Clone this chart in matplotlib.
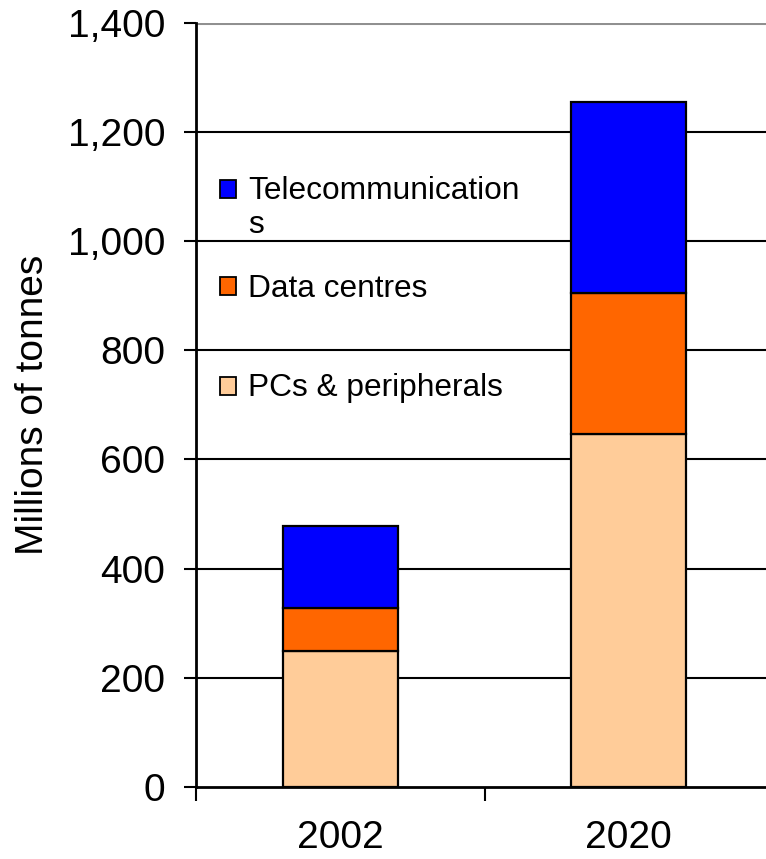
import matplotlib
matplotlib.use("Agg")
import matplotlib.pyplot as plt
from matplotlib.patches import Rectangle
import numpy as np

plt.rcParams['font.family'] = ['Liberation Sans', 'DejaVu Sans']

years = ["2002", "2020"]
series_names = ["PCs & peripherals", "Data centres", "Telecommunications"]
pcs = [250, 647]
data_centres = [78, 258]
telecom = [150, 349]
series_values = [pcs, data_centres, telecom]
colors = ["#FFCC99", "#FF6600", "#0000FF"]
y_ticks = [0, 200, 400, 600, 800, 1000, 1200, 1400]

fig = plt.figure(figsize=(7.66, 8.59), dpi=100)
ax = fig.add_axes([0.2559, 0.0838, 0.7533, 0.8898])

x = np.arange(len(years))
bottom = np.zeros(len(years))
for vals, col in zip(series_values, colors):
    ax.bar(x, vals, width=0.4, bottom=bottom, color=col, edgecolor="black",
           linewidth=1.6, zorder=3)
    bottom += np.array(vals)

ax.set_xlim(-0.5, 1.5)
ax.set_ylim(0, 1400)

# horizontal gridlines
for t in y_ticks[1:]:
    top = t == y_ticks[-1]
    ax.axhline(t, color="#909090" if top else "black",
               linewidth=2.2 if top else 1.5, zorder=1)

ax.set_yticks(y_ticks)
ax.set_yticklabels([f"{t:,}" for t in y_ticks])
ax.tick_params(axis="y", direction="out", length=9, width=1.5, pad=13,
               labelsize=28)

# category boundary ticks, labels at bar centres
ax.set_xticks([-0.5, 0.5, 1.5])
ax.set_xticklabels([])
ax.tick_params(axis="x", which="major", direction="out", length=10, width=1.5)
ax.set_xticks(x, minor=True)
ax.set_xticklabels(years, minor=True)
ax.tick_params(axis="x", which="minor", length=0, pad=24, labelsize=28)

for s in ["top", "right"]:
    ax.spines[s].set_visible(False)
for s in ["left", "bottom"]:
    ax.spines[s].set_linewidth(2)
    ax.spines[s].set_zorder(4)

ax.set_ylabel("Millions of tonnes", fontsize=28, labelpad=12)

# legend drawn inside the plot area, top entry first
legend_rows = [
    ("Telecommunication\ns", colors[2], 0.7830, 0.7248),
    (series_names[1], colors[1], 0.6555, 0.6411),
    (series_names[0], colors[0], 0.5247, 0.5116),
]
sq_w, sq_h = 0.0285, 0.0235
for label, col, yc, yb in legend_rows:
    ax.add_patch(Rectangle((0.0410, yc - sq_h / 2), sq_w, sq_h,
                           transform=ax.transAxes, facecolor=col,
                           edgecolor="black", linewidth=1.3, zorder=5,
                           clip_on=False))
    ax.text(0.0901, yb, label, transform=ax.transAxes, fontsize=22.8,
            va="baseline", ha="left", linespacing=1.17, zorder=5)

fig.savefig("out.png", dpi=100)
